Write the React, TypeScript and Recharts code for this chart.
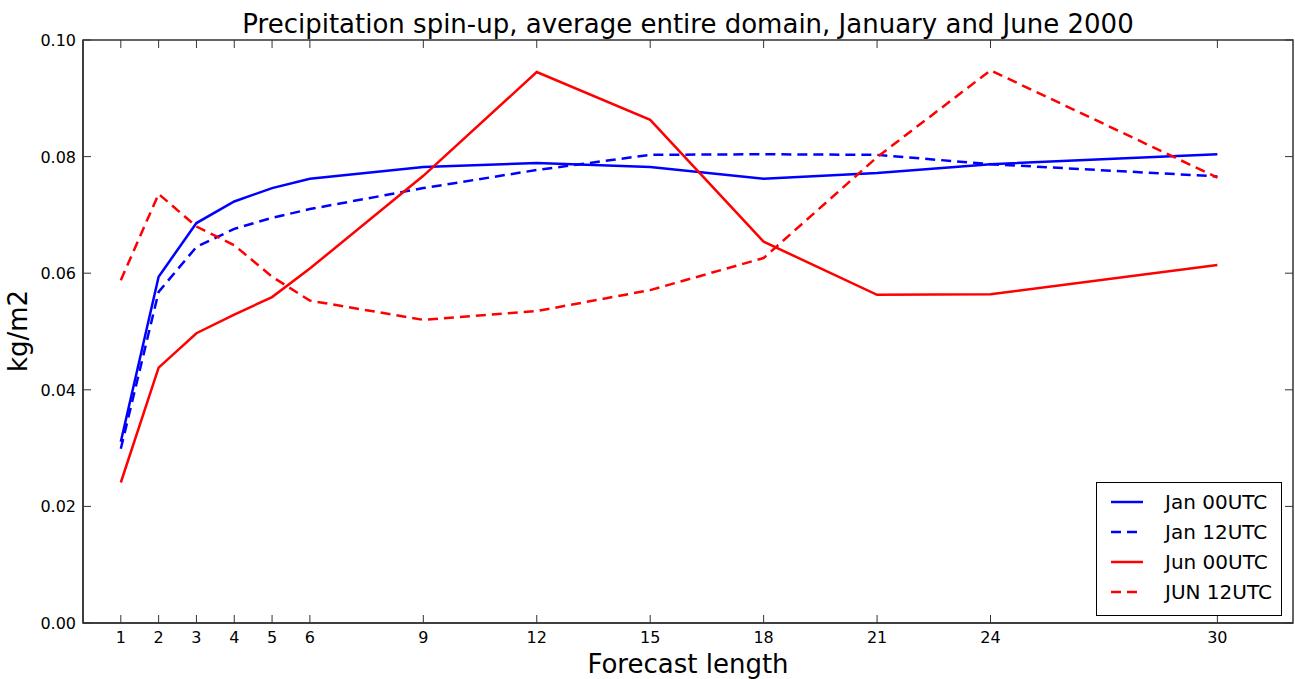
import { LineChart, Line, XAxis, YAxis, Legend, ReferenceArea, Label } from "recharts";

const forecastHours = [1, 2, 3, 4, 5, 6, 9, 12, 15, 18, 21, 24, 30];
const jan00 = [0.0311, 0.0594, 0.0686, 0.0723, 0.0746, 0.0762, 0.0782, 0.0789, 0.0782, 0.0762, 0.0772, 0.0787, 0.0804];
const jan12 = [0.0299, 0.0568, 0.0645, 0.0676, 0.0695, 0.0710, 0.0746, 0.0777, 0.0803, 0.0804, 0.0803, 0.0787, 0.0766];
const jun00 = [0.0241, 0.0438, 0.0497, 0.0529, 0.0559, 0.0608, 0.0767, 0.0945, 0.0863, 0.0654, 0.0563, 0.0564, 0.0614];
const jun12 = [0.0588, 0.0736, 0.0680, 0.0648, 0.0594, 0.0553, 0.0520, 0.0535, 0.0571, 0.0626, 0.0799, 0.0948, 0.0764];
const yTicks = [0, 0.02, 0.04, 0.06, 0.08, 0.1];

const seriesInfo = [
  { key: "jan00", name: "Jan 00UTC", color: "#0000ff", dash: undefined },
  { key: "jan12", name: "Jan 12UTC", color: "#0000ff", dash: "10 6" },
  { key: "jun00", name: "Jun 00UTC", color: "#ff0000", dash: undefined },
  { key: "jun12", name: "JUN 12UTC", color: "#ff0000", dash: "10 6" },
];

const data = forecastHours.map((h, i) => ({
  hour: h,
  jan00: jan00[i],
  jan12: jan12[i],
  jun00: jun00[i],
  jun12: jun12[i],
}));

// plot box in pixels (fixed by the margins below)
const PLOT_LEFT = 83;
const PLOT_RIGHT = 1293;
const PLOT_TOP = 40;
const PLOT_BOTTOM = 623;
const FRAME = "#333333";
const FONT = "'DejaVu Sans', sans-serif";

function XTick(props: any) {
  const { x, y, payload } = props;
  return (
    <g>
      <line x1={x} x2={x} y1={PLOT_BOTTOM} y2={PLOT_BOTTOM - 8} stroke={FRAME} />
      <line x1={x} x2={x} y1={PLOT_TOP} y2={PLOT_TOP + 8} stroke={FRAME} />
      <text x={x} y={y + 20} textAnchor="middle" fontSize={16} fill="#000" fontFamily={FONT}>
        {payload.value}
      </text>
    </g>
  );
}

function YTick(props: any) {
  const { x, y, payload } = props;
  return (
    <g>
      <line x1={PLOT_LEFT} x2={PLOT_LEFT + 8} y1={y} y2={y} stroke={FRAME} />
      <line x1={PLOT_RIGHT} x2={PLOT_RIGHT - 8} y1={y} y2={y} stroke={FRAME} />
      <text x={x - 7} y={y + 6} textAnchor="end" fontSize={16} fill="#000" fontFamily={FONT}>
        {payload.value.toFixed(2)}
      </text>
    </g>
  );
}

function LegendBox() {
  return (
    <div
      style={{
        border: "1px solid #000",
        background: "#fff",
        width: 184,
        height: 128,
        boxSizing: "content-box",
        fontFamily: FONT,
        fontSize: 20,
        paddingTop: 4,
      }}
    >
      {seriesInfo.map((s) => (
        <div key={s.key} style={{ display: "flex", alignItems: "center", height: 30 }}>
          <svg width={68} height={10} style={{ display: "block" }}>
            <line x1={14} x2={46} y1={5} y2={5} stroke={s.color} strokeWidth={2.5} strokeDasharray={s.dash} />
          </svg>
          <span style={{ color: "#000" }}>{s.name}</span>
        </div>
      ))}
    </div>
  );
}

export default function App() {
  return (
    <div style={{ position: "absolute", left: 0, top: 0, width: 1295, height: 679, background: "#fff" }}>
      <div
        style={{
          position: "absolute",
          left: PLOT_LEFT,
          width: PLOT_RIGHT - PLOT_LEFT,
          top: 9,
          textAlign: "center",
          fontFamily: FONT,
          fontSize: 26,
          lineHeight: "30px",
          color: "#000",
          whiteSpace: "nowrap",
        }}
      >
        Precipitation spin-up, average entire domain, January and June 2000
      </div>
      <LineChart width={1295} height={679} data={data} margin={{ top: 40, right: 2, bottom: 0, left: 0 }}>
        <XAxis
          dataKey="hour"
          type="number"
          domain={[0, 32]}
          ticks={forecastHours}
          interval={0}
          tickSize={0}
          tickMargin={0}
          tickLine={false}
          axisLine={{ stroke: FRAME, strokeWidth: 1.5 }}
          tick={XTick}
          height={56}
        >
          <Label
            value="Forecast length"
            position="insideBottom"
            offset={6}
            style={{ fontSize: 26, fill: "#000", fontFamily: FONT }}
          />
        </XAxis>
        <YAxis
          type="number"
          domain={[0, 0.1]}
          ticks={yTicks}
          interval={0}
          tickSize={0}
          tickMargin={0}
          tickLine={false}
          axisLine={{ stroke: FRAME, strokeWidth: 1.5 }}
          tick={YTick}
          width={83}
        >
          <Label
            content={() => (
              <text
                x={27}
                y={331}
                transform="rotate(-90, 27, 331)"
                textAnchor="middle"
                fontSize={26}
                fill="#000"
                fontFamily={FONT}
              >
                kg/m2
              </text>
            )}
          />
        </YAxis>
        <ReferenceArea x1={0} x2={32} y1={0} y2={0.1} fill="none" stroke={FRAME} strokeWidth={1.5} ifOverflow="visible" />
        {seriesInfo.map((s) => (
          <Line
            key={s.key}
            dataKey={s.key}
            name={s.name}
            type="linear"
            stroke={s.color}
            strokeWidth={2.5}
            strokeDasharray={s.dash}
            dot={false}
            activeDot={false}
            isAnimationActive={false}
          />
        ))}
        <Legend
          layout="horizontal"
          verticalAlign="middle"
          align="center"
          content={LegendBox}
          wrapperStyle={{ left: 1096, top: 482, width: 186, height: 130 }}
        />
      </LineChart>
    </div>
  );
}
